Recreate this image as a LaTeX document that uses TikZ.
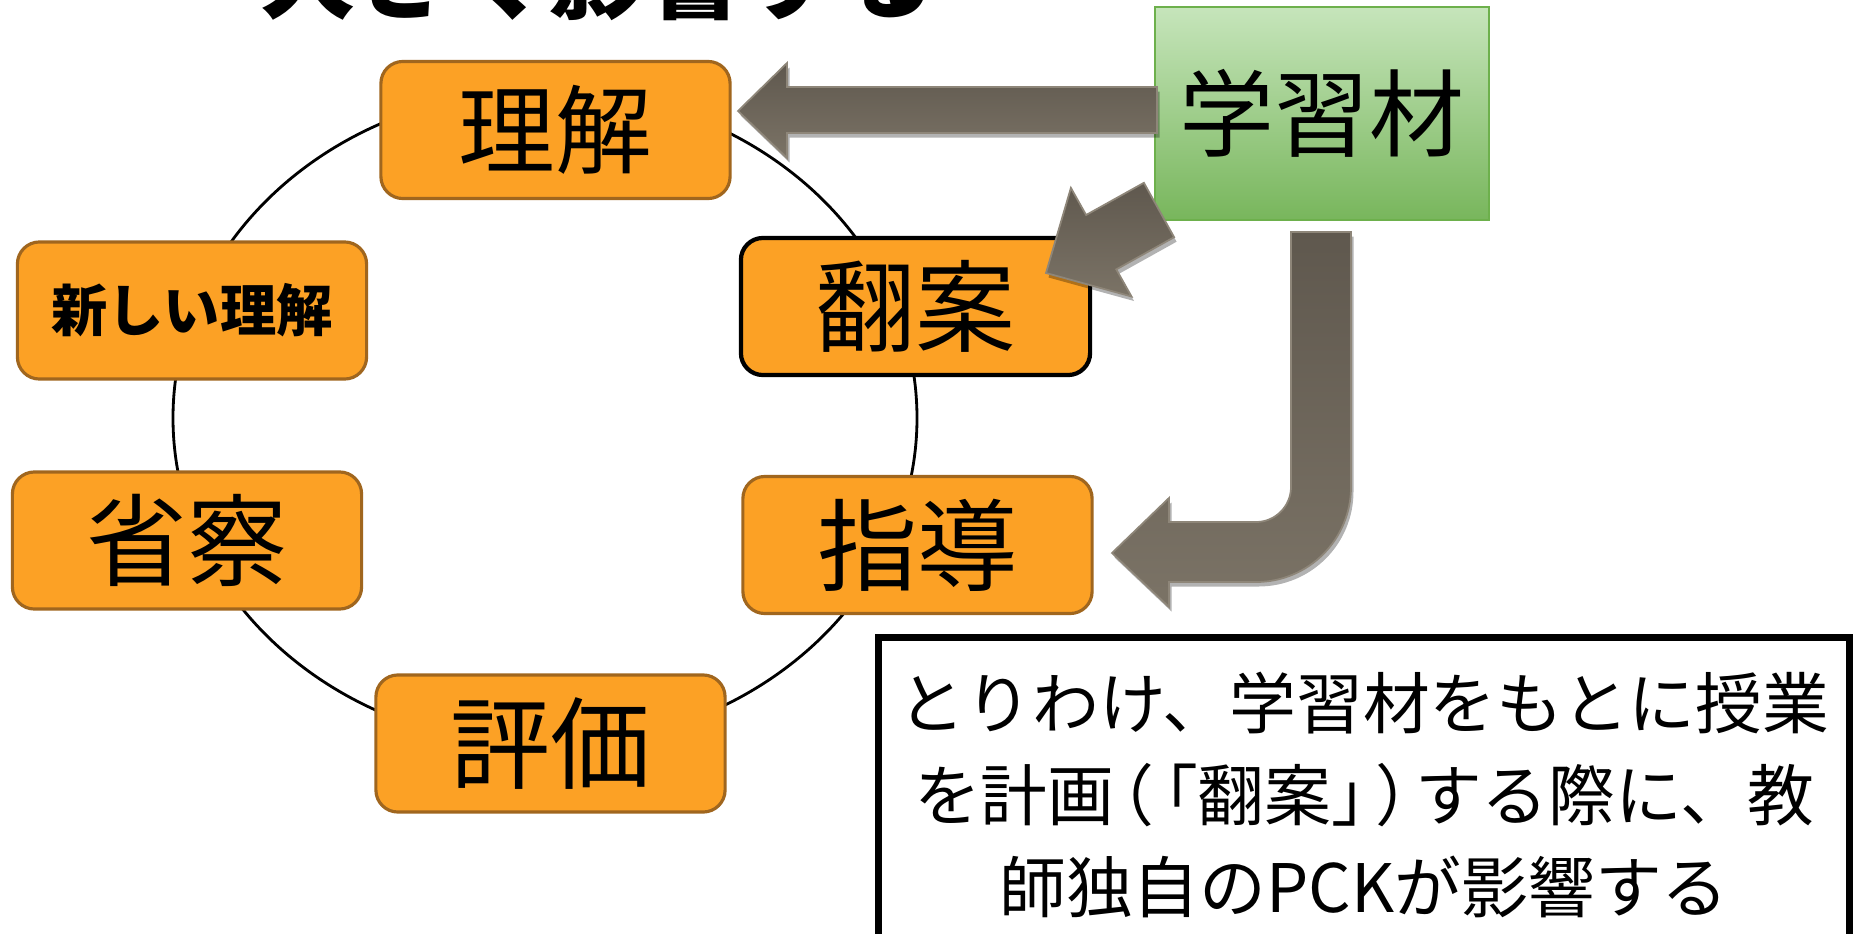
\documentclass[tikz,border=0pt]{standalone}
\usepackage{fontspec}
\setmainfont{Noto Sans CJK JP}
\usetikzlibrary{shadows}
\definecolor{orng}{HTML}{FCA125}
\definecolor{orbd}{HTML}{A0661E}
\definecolor{gtop}{HTML}{C6E5BB}
\definecolor{gbot}{HTML}{78B65C}
\definecolor{gbd}{HTML}{6DB04C}
\definecolor{arrtop}{HTML}{5F584E}
\definecolor{arrbot}{HTML}{7B7366}
\definecolor{arredge}{HTML}{8E8679}
\begin{document}
\begin{tikzpicture}[x=0.01cm,y=-0.01cm,
  box/.style={draw=orbd, line width=0.9pt, fill=orng, rounded corners=0.22cm,
    minimum width=3.49cm, minimum height=1.37cm, inner sep=0pt},
  bigtxt/.style={font=\fontsize{28.5pt}{30pt}\selectfont},
  blockarrow/.style={top color=arrtop, bottom color=arrbot, draw=arredge, line width=0.5pt,
    drop shadow={shadow xshift=0.025cm, shadow yshift=-0.045cm, opacity=0.3, fill=black}},
  notebox/.style={draw=black, line width=2pt, fill=white, minimum width=9.70cm,
    minimum height=3.14cm, inner sep=0pt, align=center,
    font=\fontsize{19pt}{26.2pt}\selectfont}
]
\useasboundingbox (0,0) rectangle (1854,933);
\clip (0,0) rectangle (1854,933);
\fill[white] (0,0) rectangle (1854,933);

% partially visible title
\node[anchor=base, inner sep=0pt, font=\bfseries\fontsize{27.5pt}{30pt}\selectfont] (title) at (598,11) {大きく影響する};

% cycle
\draw[line width=0.8pt] (545,418) ellipse [x radius=372, y radius=328];

\node[box, font=\fontsize{27.5pt}{30pt}\selectfont] (rikai) at (555.5,130) {理解};
\node[box, font=\bfseries\fontsize{16pt}{18pt}\selectfont] (shin) at (192,310.5) {新しい理解};
\node[box, bigtxt, draw=black, line width=1.2pt] (honan) at (915.5,306.5) {翻案};
\node[box, bigtxt] (shosatsu) at (187,540.5) {省察};
\node[box, bigtxt] (shido) at (917.5,545) {指導};
\node[box, bigtxt] (hyoka) at (550.5,743.5) {評価};

% learning material
\node[draw=gbd, line width=0.7pt, top color=gtop, bottom color=gbot,
  minimum width=3.34cm, minimum height=2.13cm, inner sep=0pt,
  font=\fontsize{27pt}{30pt}\selectfont] (gakushu) at (1322,113.5) {学習材};

% arrow to 理解
\fill[blockarrow] (1157,87) -- (787,87) -- (787,63) -- (738,111) -- (787,158)
  -- (787,133) -- (1157,133) -- cycle;
% arrow to 翻案
\fill[blockarrow] (1143.9,182.8) -- (1086.1,215.0) -- (1070.9,187.9) -- (1046,273)
  -- (1131.5,296.5) -- (1116.3,269.4) -- (1174.1,237.2) -- cycle;
% bent arrow to 指導
\fill[blockarrow] (1291,232) -- (1291,487)
  .. controls (1291,506.3) and (1275.3,522) .. (1256,522)
  -- (1169,522) -- (1169,498) -- (1112,553) -- (1169,607) -- (1169,582) -- (1256,582)
  .. controls (1308.5,582) and (1351,539.5) .. (1351,487)
  -- (1351,232) -- cycle;

% note
\node[notebox] (note) at (1364,795)
  {とりわけ、学習材をもとに授業\\
   を計画\kern-0.4em（\kern-0.35em「翻案」\kern-0.35em）\kern-0.4em する際に、教\\
   師独自のPCKが影響する};
\end{tikzpicture}
\end{document}
